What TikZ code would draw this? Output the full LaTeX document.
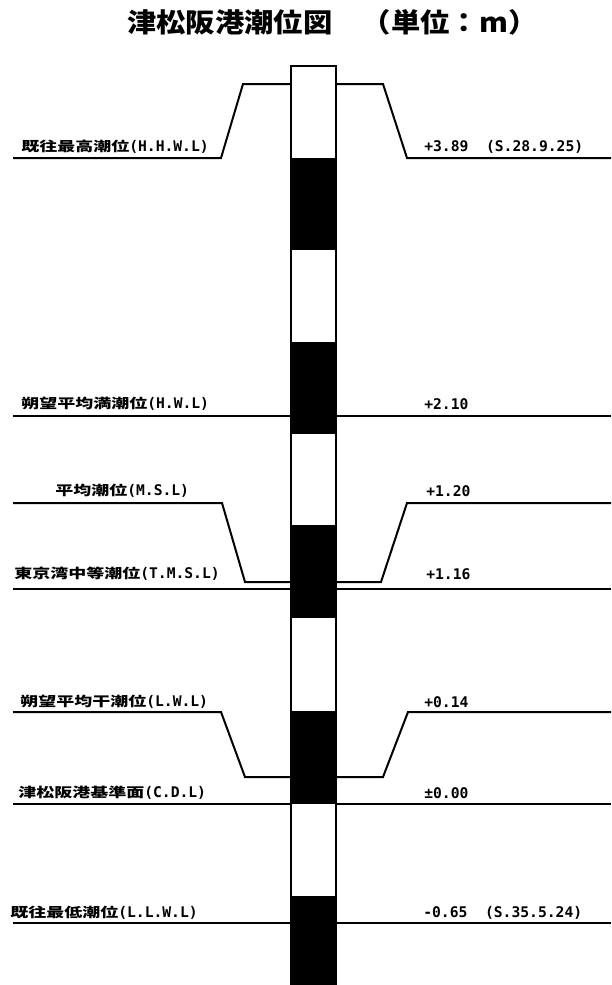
\documentclass[tikz,border=0pt]{standalone}
\usepackage{fontspec}
\usepackage{tikz}
\newfontfamily\ttlfont[FakeStretch=1.1]{Noto Sans CJK JP}
\newfontfamily\labjp[FakeStretch=1.35]{Noto Sans CJK JP}
\newfontfamily\labmono{DejaVu Sans Mono}
\newcommand{\lvltxt}[2]{{\fontsize{10}{11}\labjp\bfseries #1}{\fontsize{11}{12}\labmono\bfseries(#2)}}

\begin{document}
\begin{tikzpicture}[
  x=0.75pt, y=-0.75pt,
  lvl/.style={line width=1.5pt, line join=miter},
  lbl/.style={anchor=west, inner sep=0pt},
  val/.style={anchor=west, inner sep=0pt, font=\fontsize{11}{12}\labmono\bfseries},
  pole/.style={draw=black, line width=1.2pt, fill=white}
]
\fill[white] (0,0) rectangle (611,985);
\useasboundingbox (0,0) rectangle (611,985);

\node[anchor=west, inner sep=0pt, font=\fontsize{20}{22}\ttlfont\bfseries] (ttl) at (127,22) {津松阪港潮位図　（単位：m）};

% levels, left and right of the staff
\draw[lvl] (13,158) -- (221,158) -- (243,84) -- (291,84);
\draw[lvl] (336,84) -- (383,84) -- (407,158) -- (611,158);
\draw[lvl] (13,416) -- (291,416);
\draw[lvl] (336,416) -- (611,416);
\draw[lvl] (13,503) -- (222,503) -- (245,582) -- (291,582);
\draw[lvl] (336,582) -- (381,582) -- (407,503) -- (611,503);
\draw[lvl] (13,589) -- (291,589);
\draw[lvl] (336,589) -- (611,589);
\draw[lvl] (13,712) -- (221,712) -- (245,777) -- (291,777);
\draw[lvl] (336,777) -- (383,777) -- (408,712) -- (611,712);
\draw[lvl] (13,804) -- (291,804);
\draw[lvl] (336,804) -- (611,804);
\draw[lvl] (13,923) -- (291,923);
\draw[lvl] (336,923) -- (611,923);

% tide staff
\draw[pole] (291,66) rectangle (336,985);
\foreach \t/\b in {158/250, 342/434, 525/618, 711/804, 896/985}
  \fill[black] (291,\t) rectangle (336,\b);

\node[lbl] (hhwl) at (21,147) {\lvltxt{既往最高潮位}{H.H.W.L}};
\node[val] (hhwlv) at (424,147) {+3.89~~(S.28.9.25)};
\node[lbl] (hwl) at (21,404) {\lvltxt{朔望平均満潮位}{H.W.L}};
\node[val] (hwlv) at (424,404) {+2.10};
\node[lbl] (msl) at (55,491) {\lvltxt{平均潮位}{M.S.L}};
\node[val] (mslv) at (426,491) {+1.20};
\node[lbl] (tmsl) at (14,574) {\lvltxt{東京湾中等潮位}{T.M.S.L}};
\node[val] (tmslv) at (426,574) {+1.16};
\node[lbl] (lwl) at (20,702) {\lvltxt{朔望平均干潮位}{L.W.L}};
\node[val] (lwlv) at (424,702) {+0.14};
\node[lbl] (cdl) at (18,793) {\lvltxt{津松阪港基準面}{C.D.L}};
\node[val] (cdlv) at (424,793) {±0.00};
\node[lbl] (llwl) at (10,913) {\lvltxt{既往最低潮位}{L.L.W.L}};
\node[val] (llwlv) at (423,913) {-0.65~~(S.35.5.24)};
\end{tikzpicture}
\end{document}
